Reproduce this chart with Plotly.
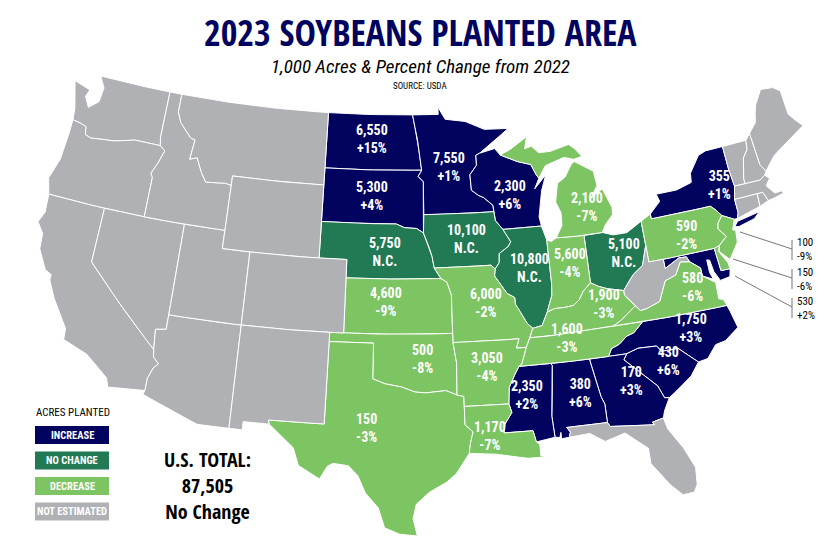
import math

import plotly.graph_objects as go

NAVY = "#02035f"
DARK_GREEN = "#217a53"
LIGHT_GREEN = "#7dc462"
GREY = "#b0b1b5"
FONT = "Roboto Condensed"
HEAVY_FONT = "Open Sans Condensed"

# the page keeps the browser's 8px body margin, so the figure is drawn that much smaller
PAGE_MARGIN = 8
FIG_W = 840 - PAGE_MARGIN
FIG_H = 558 - PAGE_MARGIN

increase_states = ["ND", "MN", "SD", "WI", "NY", "MD", "NC", "SC", "GA", "AL", "MS"]
no_change_states = ["NE", "IA", "IL", "OH"]
decrease_states = ["KS", "MO", "OK", "TX", "AR", "LA", "IN", "MI", "KY", "TN", "VA", "PA", "NJ", "DE"]
not_estimated_states = ["WA", "OR", "CA", "NV", "AZ", "UT", "ID", "MT", "WY", "CO", "NM", "WV", "CT", "RI", "MA", "VT", "NH", "ME", "FL"]

label_states = ["ND", "MN", "SD", "WI", "NY", "MI", "IA", "NE", "IL", "IN", "OH", "PA", "KS", "MO", "KY", "VA", "OK", "TN", "NC", "AR", "SC", "GA", "AL", "MS", "TX", "LA"]
label_acres = ["6,550", "7,550", "5,300", "2,300", "355", "2,100", "10,100", "5,750", "10,800", "5,600", "5,100", "590", "4,600", "6,000", "1,900", "580", "500", "1,600", "1,750", "3,050", "430", "170", "380", "2,350", "150", "1,170"]
label_change = ["+15%", "+1%", "+4%", "+6%", "+1%", "-7%", "N.C.", "N.C.", "N.C.", "-4%", "N.C.", "-2%", "-9%", "-2%", "-3%", "-6%", "-8%", "-3%", "+3%", "-4%", "+6%", "+3%", "+6%", "+2%", "-3%", "-7%"]
label_x = [372, 449, 372, 510, 719, 587, 466, 385, 529, 570, 624, 686, 386, 486, 604, 692, 422, 567, 691, 487, 668, 631, 580, 527, 366, 490]
label_y = [139, 167, 196, 195, 185, 207, 239, 252, 268, 263, 253, 235, 302, 303, 304, 287, 359, 338, 328, 367, 361, 381, 393, 395, 428, 436]

callout_acres = ["100", "150", "530"]
callout_change = ["-9%", "-6%", "+2%"]

legend_labels = ["INCREASE", "NO CHANGE", "DECREASE", "NOT ESTIMATED"]
legend_colors = [NAVY, DARK_GREEN, LIGHT_GREEN, GREY]

# shared river borders, lon/lat
MISS_UPPER = [(-92.8, 44.75), (-92.3, 44.45), (-91.9, 44.3), (-91.25, 43.85), (-91.22, 43.5), (-91.15, 43.0), (-90.65, 42.5), (-90.15, 41.8), (-90.35, 41.55), (-91.05, 41.2), (-91.1, 40.7), (-91.42, 40.38), (-91.5, 40.0), (-90.7, 39.0), (-90.2, 38.75), (-90.2, 38.4), (-89.9, 37.95), (-89.5, 37.3), (-89.15, 37.0)]
MISS_LOWER = [(-89.15, 37.0), (-89.4, 36.5), (-89.7, 36.0), (-90.1, 35.1), (-90.3, 35.0), (-90.6, 34.6), (-91.05, 33.9), (-91.15, 33.0), (-91.0, 32.4), (-91.5, 31.6), (-91.6, 31.0)]
OHIO = [(-89.15, 37.0), (-88.5, 37.1), (-88.05, 37.8), (-87.5, 37.95), (-86.8, 37.95), (-86.2, 38.0), (-85.75, 38.27), (-85.4, 38.7), (-84.82, 39.1), (-84.3, 38.85), (-83.7, 38.65), (-82.6, 38.42), (-82.1, 38.9), (-81.75, 39.2), (-81.0, 39.6), (-80.85, 39.9), (-80.52, 40.64)]
COLUMBIA = [(-116.92, 45.99), (-118.98, 46.0), (-119.3, 45.93), (-120.5, 45.7), (-121.2, 45.65), (-122.3, 45.55), (-122.75, 45.65), (-122.9, 46.1), (-123.4, 46.2), (-124.0, 46.27)]
COLORADO_R = [(-114.63, 35.0), (-114.55, 34.6), (-114.15, 34.27), (-114.45, 34.0), (-114.7, 33.4), (-114.72, 32.72)]
RED_R = [(-94.48, 33.64), (-95.2, 33.9), (-96.5, 33.8), (-97.2, 33.85), (-98.1, 34.13), (-99.2, 34.3), (-100.0, 34.56)]

OUTLINES = {
    "WA": [[(-122.8, 49), (-117.03, 49), (-117.04, 46.42)] + COLUMBIA + [(-124.1, 46.9), (-124.7, 48.38), (-123.35, 48.1), (-123.55, 47.7), (-123.1, 47.15), (-122.4, 47.6), (-122.3, 48.4)]],
    "OR": [COLUMBIA + [(-124.0, 45.5), (-124.1, 44), (-124.55, 42.85), (-124.2, 42), (-120, 42), (-117.03, 42), (-117.03, 44.2), (-117.2, 44.4), (-116.85, 45.0), (-116.5, 45.75)]],
    "CA": [[(-124.2, 42), (-120, 42), (-120, 39)] + COLORADO_R + [(-117.12, 32.53), (-117.3, 33.0), (-118.4, 33.75), (-118.9, 34.05), (-120.6, 34.55), (-120.65, 35.15), (-121.9, 36.6), (-122.5, 37.5), (-122.5, 37.8), (-123.0, 38.0), (-123.75, 39.0), (-123.85, 39.85), (-124.4, 40.4), (-124.1, 41.0)]],
    "NV": [[(-120, 42), (-114.04, 42), (-114.04, 36.2), (-114.75, 36.1), (-114.63, 35.0), (-120, 39)]],
    "AZ": [[(-114.04, 37), (-109.05, 37), (-109.05, 31.33), (-111.07, 31.33), (-114.81, 32.5)] + COLORADO_R[::-1] + [(-114.75, 36.1), (-114.04, 36.2)]],
    "UT": [[(-114.04, 42), (-111.05, 42), (-111.05, 41), (-109.05, 41), (-109.05, 37), (-114.04, 37)]],
    "ID": [[(-117.03, 49), (-116.05, 49), (-116.05, 48), (-115.7, 47.45), (-114.7, 46.7), (-114.35, 46.65), (-114.5, 45.55), (-113.95, 45.7), (-113.45, 44.95), (-113.0, 44.45), (-111.5, 44.55), (-111.05, 44.48), (-111.05, 42), (-117.03, 42), (-117.03, 44.2), (-117.2, 44.4), (-116.85, 45.0), (-116.5, 45.75), (-116.92, 45.99), (-117.04, 46.42)]],
    "MT": [[(-116.05, 49), (-104.05, 49), (-104.05, 45), (-111.05, 45), (-111.05, 44.48), (-111.5, 44.55), (-113.0, 44.45), (-113.45, 44.95), (-113.95, 45.7), (-114.5, 45.55), (-114.35, 46.65), (-114.7, 46.7), (-115.7, 47.45), (-116.05, 48)]],
    "WY": [[(-111.05, 45), (-104.05, 45), (-104.05, 41), (-111.05, 41)]],
    "CO": [[(-109.05, 41), (-102.05, 41), (-102.05, 37), (-109.05, 37)]],
    "NM": [[(-109.05, 37), (-103, 37), (-103.04, 32), (-106.62, 32), (-106.53, 31.78), (-108.2, 31.78), (-108.2, 31.33), (-109.05, 31.33)]],
    "ND": [[(-104.05, 49), (-97.23, 49), (-96.85, 47.6), (-96.56, 45.94), (-104.05, 45.94)]],
    "SD": [[(-104.05, 45.94), (-96.56, 45.94), (-96.85, 45.6), (-96.45, 45.3), (-96.45, 43.5), (-96.5, 42.5), (-97, 42.75), (-97.9, 42.8), (-98.5, 43), (-104.05, 43)]],
    "NE": [[(-104.05, 43), (-98.5, 43), (-97.9, 42.8), (-97, 42.75), (-96.5, 42.5), (-96.1, 41.7), (-95.9, 41.2), (-95.77, 40.58), (-95.31, 40), (-102.05, 40), (-102.05, 41), (-104.05, 41)]],
    "KS": [[(-102.05, 40), (-95.31, 40), (-94.9, 39.8), (-94.61, 39.1), (-94.62, 37), (-102.05, 37)]],
    "OK": [[(-103, 37), (-94.62, 37), (-94.62, 36.5), (-94.43, 35.4)] + RED_R + [(-100, 36.5), (-103, 36.5)]],
    "TX": [[(-103, 36.5), (-100, 36.5)] + RED_R[::-1] + [(-94.04, 33.55), (-94.04, 33.0), (-94.04, 32), (-93.55, 31.2), (-93.75, 30.4), (-93.85, 29.7), (-94.7, 29.35), (-95.3, 28.9), (-96.4, 28.35), (-97.2, 27.7), (-97.4, 26.9), (-97.15, 25.95), (-98.2, 26.05), (-99.1, 26.4), (-99.5, 27.5), (-100.3, 28.3), (-100.8, 29.25), (-101.4, 29.77), (-102.35, 29.87), (-102.7, 29.7), (-103.15, 28.98), (-104.5, 29.65), (-104.9, 30.6), (-106.53, 31.78), (-106.62, 32), (-103.04, 32)]],
    "MN": [[(-97.23, 49), (-95.15, 49), (-95.15, 49.4), (-94.6, 48.72), (-93, 48.55), (-91.5, 48.05), (-89.6, 48.0), (-92.0, 46.75), (-92.3, 46.65), (-92.3, 46.1), (-92.85, 45.6)] + MISS_UPPER[:5] + [(-96.45, 43.5), (-96.45, 45.3), (-96.85, 45.6), (-96.56, 45.94), (-96.85, 47.6)]],
    "WI": [[(-92.0, 46.75), (-90.8, 46.95), (-90.4, 46.57), (-89.1, 46.13), (-88.1, 45.9), (-87.8, 45.35), (-87.6, 45.1), (-88.0, 44.55), (-87.05, 45.25), (-87.5, 44.4), (-87.9, 43.0), (-87.8, 42.49)] + MISS_UPPER[:7][::-1] + [(-92.85, 45.6), (-92.3, 46.1), (-92.3, 46.65)]],
    "IA": [[(-96.45, 43.5)] + MISS_UPPER[4:12] + [(-91.7, 40.6), (-95.77, 40.58), (-95.9, 41.2), (-96.1, 41.7), (-96.5, 42.5)]],
    "MO": [[(-95.77, 40.58), (-91.7, 40.6)] + MISS_UPPER[11:] + [(-89.4, 36.5), (-89.7, 36.0), (-90.37, 36.0), (-90.15, 36.5), (-94.62, 36.5), (-94.62, 37), (-94.61, 39.1), (-94.9, 39.8), (-95.31, 40)]],
    "AR": [[(-94.62, 36.5), (-90.15, 36.5), (-90.37, 36.0)] + MISS_LOWER[2:8] + [(-94.04, 33.0), (-94.04, 33.55), (-94.48, 33.64), (-94.43, 35.4)]],
    "LA": [[(-94.04, 33)] + MISS_LOWER[7:] + [(-89.75, 31), (-89.6, 30.2), (-89.4, 30.0), (-89.4, 29.2), (-89.0, 29.1), (-90.2, 29.1), (-91.3, 29.35), (-92.2, 29.55), (-93.85, 29.7), (-93.75, 30.4), (-93.55, 31.2), (-94.04, 32)]],
    "MS": [[(-90.3, 35.0), (-88.2, 35.0), (-88.1, 34.9), (-88.47, 31.9), (-88.4, 30.4), (-89.6, 30.2), (-89.75, 31)] + MISS_LOWER[4:][::-1]],
    "AL": [[(-88.2, 35), (-85.6, 35), (-85.18, 32.87), (-85.0, 32.3), (-85.0, 31), (-87.6, 31), (-87.4, 30.65), (-87.5, 30.3), (-88.0, 30.25), (-88.0, 30.7), (-88.1, 30.35), (-88.4, 30.4), (-88.47, 31.9), (-88.1, 34.9)]],
    "TN": [[(-90.3, 35), (-88.2, 35), (-85.6, 35), (-84.32, 35), (-84.05, 35.4), (-83.5, 35.57), (-82.9, 35.95), (-82.4, 36.07), (-81.68, 36.59), (-83.68, 36.6), (-88.05, 36.5), (-89.4, 36.5), (-89.7, 36), (-90.1, 35.1)]],
    "KY": [[(-89.4, 36.5), (-88.05, 36.5), (-83.68, 36.6), (-83.1, 36.85), (-82.0, 37.5), (-82.6, 38.17)] + OHIO[:12][::-1]],
    "VA": [[(-83.68, 36.6), (-81.68, 36.59), (-75.87, 36.55), (-76, 36.9), (-76.3, 37.0), (-76.25, 37.9), (-77.05, 38.4), (-77.05, 38.85), (-77.7, 39.3), (-78.35, 39.4), (-78.85, 38.75), (-79.65, 38.55), (-80.3, 37.5), (-81.25, 37.25), (-81.7, 37.2), (-82.0, 37.5), (-83.1, 36.85)]],
    "WV": [[(-82.6, 38.17), (-82.0, 37.5), (-81.7, 37.2), (-81.25, 37.25), (-80.3, 37.5), (-79.65, 38.55), (-78.85, 38.75), (-78.35, 39.4), (-77.7, 39.3), (-77.85, 39.6), (-78.4, 39.62), (-79.48, 39.2), (-79.48, 39.72), (-80.52, 39.72)] + OHIO[11:][::-1]],
    "MD": [[(-79.48, 39.72), (-75.79, 39.72), (-75.7, 38.46), (-75.05, 38.45), (-75.2, 38.03), (-75.9, 37.95), (-76.2, 38.5), (-76.3, 39.15), (-76.5, 39.2), (-76.5, 38.5), (-76.35, 38.1), (-77.05, 38.4), (-77.05, 38.85), (-77.7, 39.3), (-77.85, 39.6), (-78.4, 39.62), (-79.48, 39.2)]],
    "DE": [[(-75.79, 39.72), (-75.4, 39.8), (-75.55, 39.5), (-75.1, 38.8), (-75.05, 38.45), (-75.7, 38.46)]],
    "NJ": [[(-75.1, 41.0), (-74.7, 41.36), (-73.9, 41.0), (-74.2, 40.45), (-74.0, 40.4), (-74.1, 39.75), (-74.9, 38.93), (-75.5, 39.5), (-75.4, 39.8), (-75.1, 40.0), (-74.75, 40.2), (-75.2, 40.7)]],
    "PA": [[(-80.52, 41.98), (-79.76, 42.27), (-79.76, 42), (-75.35, 42), (-75.05, 41.75), (-74.7, 41.36), (-75.1, 41.0), (-75.2, 40.7), (-74.75, 40.2), (-75.1, 40), (-75.4, 39.8), (-75.79, 39.72), (-80.52, 39.72)]],
    "NY": [[(-79.76, 42.27), (-78.9, 42.85), (-79.05, 43.27), (-77.5, 43.27), (-76.3, 43.5), (-76.2, 44), (-75.3, 44.85), (-74.7, 45), (-73.35, 45), (-73.35, 43.7), (-73.25, 42.75), (-73.5, 42.05), (-73.5, 41.3), (-73.65, 41), (-73.9, 41.0), (-74.7, 41.36), (-75.05, 41.75), (-75.35, 42), (-79.76, 42)],
           [(-74, 40.6), (-73.7, 40.85), (-72, 41.05), (-72.5, 40.75), (-73.7, 40.55)]],
    "CT": [[(-73.5, 42.05), (-71.8, 42.02), (-71.85, 41.32), (-73.65, 41), (-73.5, 41.3)]],
    "RI": [[(-71.8, 42.02), (-71.38, 42.02), (-71.15, 41.5), (-71.85, 41.32)]],
    "MA": [[(-73.5, 42.05), (-73.25, 42.75), (-72.45, 42.73), (-71.3, 42.7), (-70.9, 42.88), (-70.6, 42.65), (-71.0, 42.3), (-70.55, 41.8), (-70.0, 41.8), (-70.05, 42.05), (-69.95, 41.65), (-70.65, 41.55), (-71.15, 41.5), (-71.38, 42.02), (-71.8, 42.02)]],
    "VT": [[(-73.35, 45), (-71.5, 45), (-71.6, 44.5), (-72.05, 44.1), (-72.45, 43.0), (-72.45, 42.73), (-73.25, 42.75), (-73.35, 43.7)]],
    "NH": [[(-71.5, 45), (-71.08, 45.3), (-71.0, 43.5), (-70.7, 43.07), (-70.9, 42.88), (-71.3, 42.7), (-72.45, 42.73), (-72.45, 43.0), (-72.05, 44.1), (-71.6, 44.5)]],
    "ME": [[(-71.08, 45.3), (-70.4, 45.8), (-70.25, 46.2), (-70.0, 46.7), (-69.25, 47.45), (-68.3, 47.35), (-67.8, 47.05), (-67.8, 45.7), (-67.45, 45.3), (-67, 44.85), (-68.5, 44.3), (-69.8, 43.75), (-70.7, 43.07), (-71.0, 43.5)]],
    "MI": [[(-84.75, 45.78), (-83.4, 45.1), (-83.3, 44.3), (-83.9, 43.65), (-82.95, 44.07), (-82.45, 43.0), (-82.5, 42.6), (-83.15, 42.1), (-83.45, 41.72), (-84.8, 41.7), (-86.82, 41.76), (-86.3, 42.4), (-86.25, 43.1), (-86.55, 43.7), (-86.25, 44.7), (-85.6, 45.0), (-85.0, 45.65)],
           [(-90.4, 46.57), (-89.1, 46.13), (-88.1, 45.9), (-87.8, 45.35), (-87.6, 45.1), (-87.0, 45.75), (-85.5, 46.08), (-84.75, 45.9), (-84.1, 46.0), (-84.6, 46.5), (-85.0, 46.75), (-86.5, 46.5), (-87.4, 46.5), (-87.9, 46.9), (-88.45, 46.8), (-88.2, 47.45), (-89.6, 46.83)]],
    "OH": [OHIO[8:] + [(-80.52, 41.98), (-81.7, 41.5), (-82.7, 41.5), (-83.45, 41.72), (-84.8, 41.7)]],
    "IN": [OHIO[2:9] + [(-84.8, 41.7), (-86.82, 41.76), (-87.2, 41.6), (-87.53, 41.7), (-87.53, 39.35), (-87.6, 38.7)]],
    "IL": [[(-87.8, 42.49), (-87.53, 41.7), (-87.53, 39.35), (-87.6, 38.7)] + OHIO[:3][::-1] + MISS_UPPER[6:][::-1]],
    "NC": [[(-84.32, 35), (-83.1, 35), (-82.3, 35.2), (-81.05, 35.15), (-80.8, 34.82), (-79.67, 34.8), (-78.55, 33.87), (-77.9, 33.95), (-77.2, 34.6), (-76.5, 34.7), (-75.5, 35.25), (-75.75, 36.2), (-75.87, 36.55), (-81.68, 36.59), (-82.4, 36.07), (-82.9, 35.95), (-83.5, 35.57), (-84.05, 35.4)]],
    "SC": [[(-83.1, 35), (-82.3, 35.2), (-81.05, 35.15), (-80.8, 34.82), (-79.67, 34.8), (-78.55, 33.87), (-79.2, 33.2), (-80.85, 32.05), (-81.15, 32.1), (-81.45, 33.0), (-82.0, 33.5), (-83.35, 34.7)]],
    "GA": [[(-85.6, 35), (-84.32, 35), (-83.1, 35), (-83.35, 34.7), (-82, 33.5), (-81.45, 33), (-81.15, 32.1), (-80.85, 32.05), (-81.3, 31.2), (-81.45, 30.72), (-82.2, 30.55), (-82.05, 30.35), (-84.86, 30.7), (-85, 31), (-85, 32.3), (-85.18, 32.87)]],
    "FL": [[(-87.5, 30.3), (-87.4, 30.65), (-87.6, 31), (-85, 31), (-84.86, 30.7), (-82.05, 30.35), (-82.2, 30.55), (-81.45, 30.72), (-81.3, 29.9), (-80.55, 28.4), (-80.05, 26.9), (-80.15, 25.7), (-80.4, 25.2), (-81.1, 25.15), (-81.75, 26), (-82.7, 27.7), (-82.7, 28.8), (-83.4, 29.5), (-84, 30.1), (-85.3, 29.7), (-86.2, 30.4)]],
}


def _albers(lon, lat, lat1=29.5, lat2=45.5, lon0=-98, lat0=37.5):
    # plotly's geo subplot wants a topojson download, so the projection is done here
    p1, p2, p0 = math.radians(lat1), math.radians(lat2), math.radians(lat0)
    n = (math.sin(p1) + math.sin(p2)) / 2
    c = math.cos(p1) ** 2 + 2 * n * math.sin(p1)
    rho = math.sqrt(c - 2 * n * math.sin(math.radians(lat))) / n
    rho0 = math.sqrt(c - 2 * n * math.sin(p0)) / n
    theta = n * math.radians(lon - lon0)
    return rho * math.sin(theta), rho0 - rho * math.cos(theta)


def _squash_gulf(lon, lat):
    # the reference draws the gulf states and Florida shorter than a true projection
    if lon > -94 and lat < 33:
        return lon, 33 - (33 - lat) * 0.78
    return lon, lat


def _densify(ring, step=0.5):
    out = []
    for (x0, y0), (x1, y1) in zip(ring, ring[1:] + ring[:1]):
        parts = max(1, int(max(abs(x1 - x0), abs(y1 - y0)) / step))
        for k in range(parts):
            out.append((x0 + (x1 - x0) * k / parts, y0 + (y1 - y0) * k / parts))
    return out


def _px(x, y):
    # picture pixels to paper coordinates
    return (x - PAGE_MARGIN) / FIG_W, 1 - (y - PAGE_MARGIN) / FIG_H


def _text(fig, x, y, text, size, color="black", xanchor="center", family=FONT):
    px, py = _px(x, y)
    fig.add_annotation(x=px, y=py, xref="paper", yref="paper", text=text, showarrow=False, xanchor=xanchor, yanchor="middle",
                       font={"family": family, "size": size, "color": color}, align=xanchor)


fig = go.Figure()
all_x, all_y = [], []
for states, color in zip([increase_states, no_change_states, decrease_states, not_estimated_states], legend_colors):
    for state in states:
        xs, ys = [], []
        for ring in OUTLINES[state]:
            pts = [_albers(*_squash_gulf(lon, lat)) for lon, lat in _densify(ring)]
            xs += [p[0] for p in pts] + [pts[0][0], None]
            ys += [p[1] for p in pts] + [pts[0][1], None]
            all_x += [p[0] for p in pts]
            all_y += [p[1] for p in pts]
        fig.add_trace(go.Scatter(x=xs, y=ys, mode="lines", fill="toself", fillcolor=color, name=state,
                                 line={"color": "white", "width": 1}, hoverinfo="name", showlegend=False))

# fit the projected bounding box to where the map sits in the picture
left, right, top, bottom = 38, 803, 76, 536
sx = (max(all_x) - min(all_x)) / (right - left)
sy = (max(all_y) - min(all_y)) / (bottom - top)
x_range = [min(all_x) - (left - PAGE_MARGIN) * sx, max(all_x) + (840 - right) * sx]
y_range = [min(all_y) - (558 - bottom) * sy, max(all_y) + (top - PAGE_MARGIN) * sy]

fig.update_xaxes(visible=False, range=x_range, domain=[0, 1])
fig.update_yaxes(visible=False, range=y_range, domain=[0, 1])
fig.update_layout(width=FIG_W, height=FIG_H, margin={"l": 0, "r": 0, "t": 0, "b": 0}, paper_bgcolor="white", plot_bgcolor="white", showlegend=False)

_text(fig, 420, 33, "<b>2023 SOYBEANS PLANTED AREA</b>", 36, NAVY, family=HEAVY_FONT)
_text(fig, 420, 66, "<i>1,000 Acres &amp; Percent Change from 2022</i>", 19)
_text(fig, 420, 86, "SOURCE: USDA", 9)

for x, y, acres, change in zip(label_x, label_y, label_acres, label_change):
    _text(fig, x, y, f"<b>{acres}<br>{change}</b>", 14, "white")

# callouts for the small states
callout_y = [250, 279, 308]
callout_from = [(740, 232), (733, 259), (735, 276)]
for (x0, y0), y, acres, change in zip(callout_from, callout_y, callout_acres, callout_change):
    px0, py0 = _px(x0, y0)
    px1, py1 = _px(792, y - 1)
    fig.add_shape(type="line", xref="paper", yref="paper", x0=px0, y0=py0, x1=px1, y1=py1, line={"color": "#777777", "width": 1})
    px2, py2 = _px(792, y - 10)
    px3, py3 = _px(792, y + 10)
    fig.add_shape(type="line", xref="paper", yref="paper", x0=px2, y0=py2, x1=px3, y1=py3, line={"color": "#777777", "width": 1})
    _text(fig, 795, y, f"{acres}<br>{change}", 11, xanchor="left")

# legend
_text(fig, 73, 412, "ACRES PLANTED", 11)
for i, (label, color) in enumerate(zip(legend_labels, legend_colors)):
    top_px = 426 + i * 25.5
    xa, ya = _px(35, top_px)
    xb, yb = _px(109, top_px + 18)
    fig.add_shape(type="rect", xref="paper", yref="paper", x0=xa, y0=ya, x1=xb, y1=yb, fillcolor=color, line={"width": 0})
    _text(fig, 72, top_px + 9, f"<b>{label}</b>", 10.5, "white")

_text(fig, 207, 485, "<b>U.S. TOTAL:<br>87,505<br>No Change</b>", 20, family=HEAVY_FONT)

fig.write_html("out.html")
